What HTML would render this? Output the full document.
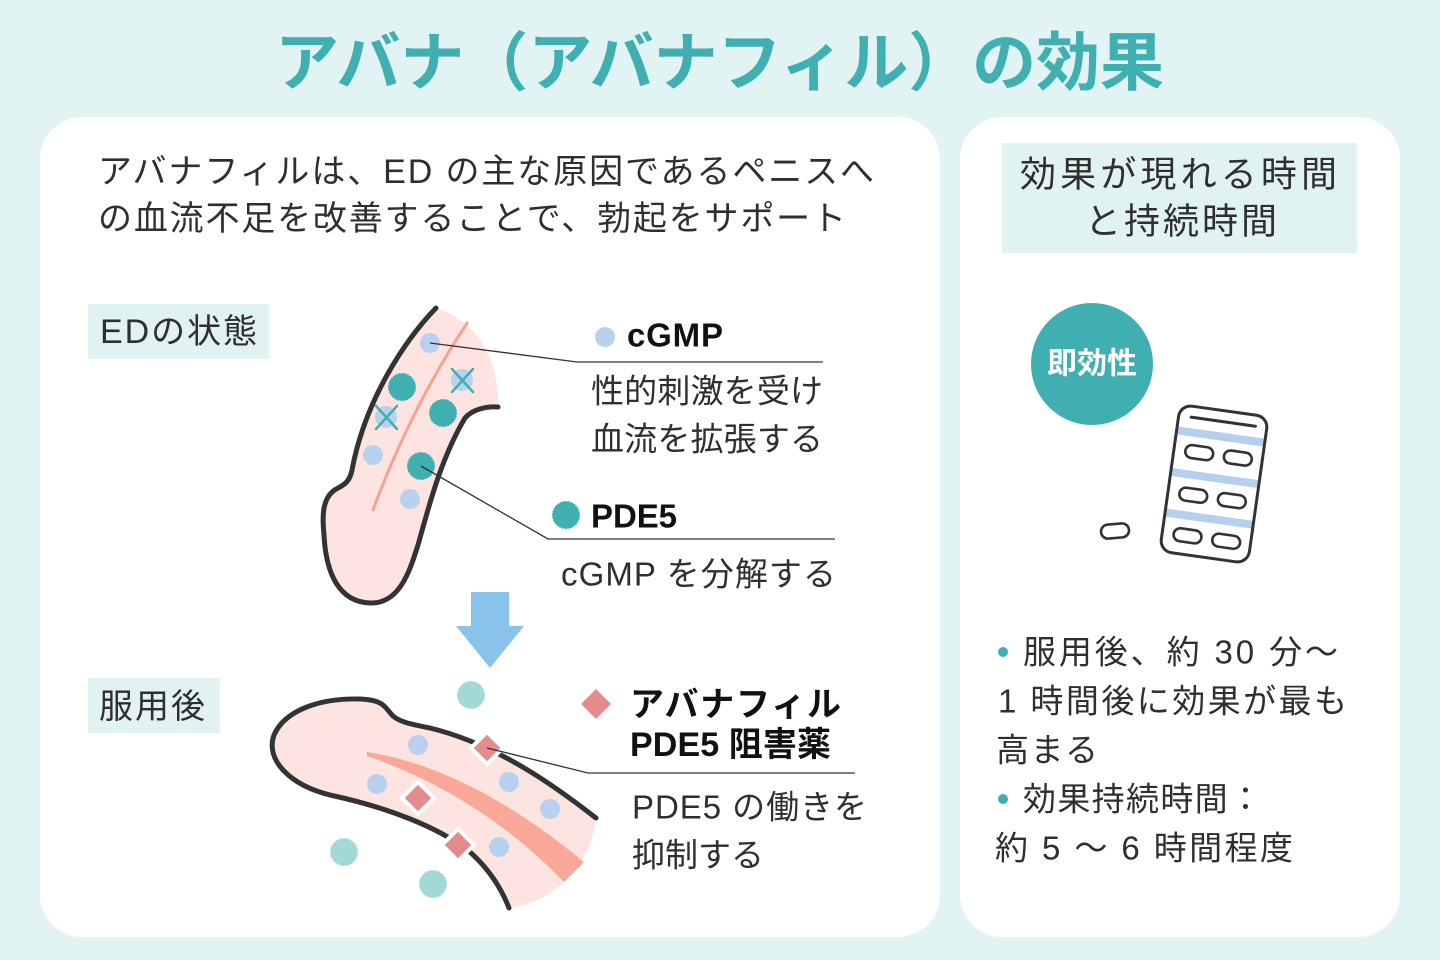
<!DOCTYPE html>
<html lang="ja">
<head>
<meta charset="utf-8">
<style>
html,body{margin:0;padding:0;background:#e1f3f3;}
svg{display:block;}
text{font-family:"Liberation Sans","Noto Sans CJK JP",sans-serif;}
</style>
</head>
<body>
<svg width="1440" height="960" viewBox="0 0 1440 960" xmlns="http://www.w3.org/2000/svg">
  <rect x="0" y="0" width="1440" height="960" fill="#e1f3f3"/>

  <!-- Title -->
  <text x="275" y="63" font-size="64" font-weight="700" fill="#40afb1" dominant-baseline="central" textLength="889" lengthAdjust="spacing">アバナ（アバナフィル）の効果</text>

  <!-- Cards -->
  <rect x="40" y="117" width="900" height="820" rx="42" fill="#ffffff"/>
  <rect x="960" y="117" width="440" height="820" rx="42" fill="#ffffff"/>

  <!-- Left intro text -->
  <text x="98" y="172" font-size="34" fill="#2f2f2f" dominant-baseline="central" textLength="776" lengthAdjust="spacing">アバナフィルは、ED の主な原因であるペニスへ</text>
  <text x="98" y="219" font-size="34" fill="#2f2f2f" dominant-baseline="central" textLength="748" lengthAdjust="spacing">の血流不足を改善することで、勃起をサポート</text>

  <!-- Labels -->
  <rect x="88" y="304" width="181" height="55" fill="#e0f3f2"/>
  <text x="100" y="332" font-size="34" fill="#2f2f2f" dominant-baseline="central" textLength="157" lengthAdjust="spacing">EDの状態</text>
  <rect x="88" y="678" width="132" height="55" fill="#e0f3f2"/>
  <text x="99" y="707" font-size="34" fill="#2f2f2f" dominant-baseline="central" textLength="106" lengthAdjust="spacing">服用後</text>

  <!-- Top illustration (ED state) -->
  <path d="M436,308 C405,340 365,400 352,470 C350,480 346,484 338,488 C322,496 322,515 324,535 C326,575 340,602 370,603 C400,604 410,570 418,545 C428,510 440,460 465,418 C472,410 485,406 498,407 C499,370 486,325 436,308 Z" fill="#fde4e0"/>
  <path d="M467,323 Q410,410 373,510" fill="none" stroke="#f7a393" stroke-width="3" stroke-linecap="round"/>
  <path d="M436,308 C405,340 365,400 352,470 C350,480 346,484 338,488 C322,496 322,515 324,535 C326,575 340,602 370,603 C400,604 410,570 418,545 C428,510 440,460 465,418 C472,410 485,406 498,407" fill="none" stroke="#333" stroke-width="5" stroke-linecap="round" stroke-linejoin="round"/>

  <!-- dots top -->
  <circle cx="430" cy="343" r="10" fill="#b8d1ef"/>
  <circle cx="373" cy="455" r="10" fill="#b8d1ef"/>
  <circle cx="410" cy="499" r="10" fill="#b8d1ef"/>
  <circle cx="462" cy="380" r="11" fill="#b8d1ef"/>
  <circle cx="386" cy="417" r="11" fill="#b8d1ef"/>
  <g stroke="#40afb1" stroke-width="2.5" stroke-linecap="round">
    <line x1="452" y1="369" x2="473" y2="392"/><line x1="473" y1="369" x2="452" y2="392"/>
    <line x1="376" y1="406" x2="397" y2="429"/><line x1="397" y1="406" x2="376" y2="429"/>
  </g>
  <g fill="#40afb1" stroke="#40afb1" stroke-width="1.2" stroke-dasharray="1.6 1.4">
    <circle cx="402" cy="387" r="13.5"/>
    <circle cx="443" cy="413" r="13.5"/>
    <circle cx="421" cy="466" r="13.5"/>
  </g>

  <!-- leader lines top -->
  <polyline points="430,343 577,362 823,362" fill="none" stroke="#333" stroke-width="1.3"/>
  <polyline points="421,466 548,539 835,539" fill="none" stroke="#333" stroke-width="1.3"/>

  <!-- top labels -->
  <circle cx="605" cy="337" r="10" fill="#b8d1ef"/>
  <text x="627" y="335" font-size="33" font-weight="700" fill="#111" dominant-baseline="central" textLength="96" lengthAdjust="spacing">cGMP</text>
  <text x="591" y="391" font-size="33" fill="#2f2f2f" dominant-baseline="central" textLength="232" lengthAdjust="spacing">性的刺激を受け</text>
  <text x="591" y="439" font-size="33" fill="#2f2f2f" dominant-baseline="central" textLength="232" lengthAdjust="spacing">血流を拡張する</text>
  <circle cx="566" cy="515" r="13.5" fill="#40afb1" stroke="#40afb1" stroke-width="1.2" stroke-dasharray="1.6 1.4"/>
  <text x="591" y="516" font-size="33" font-weight="700" fill="#111" dominant-baseline="central" textLength="86" lengthAdjust="spacing">PDE5</text>
  <text x="561" y="574" font-size="33" fill="#2f2f2f" dominant-baseline="central" textLength="275" lengthAdjust="spacing">cGMP を分解する</text>

  <!-- arrow -->
  <polygon points="471,592 509,592 509,626 524,626 490,668 456,626 471,626" fill="#89c2ea"/>

  <!-- Bottom illustration -->
  <path d="M596,818 C560,790 500,745 430,728 C410,724 400,722 393,716 C385,708 385,700 360,699 C320,698 285,710 274,735 C265,760 290,785 330,795 C390,808 440,828 470,852 C490,870 502,890 509,908 C550,903 590,870 596,818 Z" fill="#fde4e0"/>
  <path d="M367,752 Q470,768 584,862 L564,882 Q480,795 367,756 Z" fill="#f9a898"/>
  <path d="M596,818 C560,790 500,745 430,728 C410,724 400,722 393,716 C385,708 385,700 360,699 C320,698 285,710 274,735 C265,760 290,785 330,795 C390,808 440,828 470,852 C490,870 502,890 509,908" fill="none" stroke="#333" stroke-width="5" stroke-linecap="round" stroke-linejoin="round"/>

  <g fill="#b8d1ef">
    <circle cx="418" cy="745" r="10"/>
    <circle cx="377" cy="784" r="10"/>
    <circle cx="509" cy="782" r="10"/>
    <circle cx="550" cy="809" r="10"/>
    <circle cx="499" cy="847" r="10"/>
  </g>
  <g fill="#a2d9d7" stroke="#a2d9d7" stroke-width="1.2" stroke-dasharray="1.6 1.4">
    <circle cx="471" cy="695" r="13.5"/>
    <circle cx="344" cy="852" r="13.5"/>
    <circle cx="433" cy="884" r="13.5"/>
  </g>
  <g fill="#e48c8c" stroke="#ffffff" stroke-width="4" stroke-linejoin="miter">
    <polygon points="487,732 503,748 487,764 471,748"/>
    <polygon points="418,782 434,798 418,814 402,798"/>
    <polygon points="458,829 474,845 458,861 442,845"/>
  </g>
  <polyline points="487,748 588,773 855,773" fill="none" stroke="#333" stroke-width="1.3"/>

  <!-- bottom labels -->
  <polygon points="596,689 611,704 596,719 581,704" fill="#e48c8c"/>
  <text x="630" y="705" font-size="34" font-weight="700" fill="#111" dominant-baseline="central" textLength="211" lengthAdjust="spacing">アバナフィル</text>
  <text x="630" y="745" font-size="34" font-weight="700" fill="#111" dominant-baseline="central" textLength="201" lengthAdjust="spacing">PDE5 阻害薬</text>
  <text x="632" y="807" font-size="33" fill="#2f2f2f" dominant-baseline="central" textLength="235" lengthAdjust="spacing">PDE5 の働きを</text>
  <text x="632" y="855" font-size="33" fill="#2f2f2f" dominant-baseline="central" textLength="132" lengthAdjust="spacing">抑制する</text>

  <!-- Right card -->
  <rect x="1002" y="143" width="355" height="110" fill="#e0f3f2"/>
  <text x="1020" y="174" font-size="36" fill="#2f2f2f" dominant-baseline="central" textLength="317" lengthAdjust="spacing">効果が現れる時間</text>
  <text x="1085" y="221" font-size="36" fill="#2f2f2f" dominant-baseline="central" textLength="192" lengthAdjust="spacing">と持続時間</text>

  <circle cx="1092" cy="364" r="61" fill="#40afb1"/>
  <text x="1047" y="364" font-size="30" font-weight="700" fill="#ffffff" dominant-baseline="central" textLength="90" lengthAdjust="spacing">即効性</text>

  <!-- blister pack -->
  <defs>
    <clipPath id="bp">
      <rect x="-44.5" y="-74" width="89" height="148" rx="12"/>
    </clipPath>
  </defs>
  <g transform="translate(1214,484) rotate(8)">
    <rect x="-44.5" y="-74" width="89" height="148" rx="12" fill="#ffffff"/>
    <g clip-path="url(#bp)" fill="#b5cfee">
      <rect x="-46" y="-52" width="92" height="8"/>
      <rect x="-46" y="-10" width="92" height="8"/>
      <rect x="-46" y="31" width="92" height="8"/>
    </g>
    <rect x="-44.5" y="-74" width="89" height="148" rx="12" fill="none" stroke="#333" stroke-width="3"/>
    <line x1="-32" y1="-63" x2="33" y2="-63" stroke="#333" stroke-width="3" stroke-linecap="round"/>
    <g fill="#ffffff" stroke="#333" stroke-width="2.6">
      <rect x="-33" y="-35.5" width="28" height="13" rx="6.5"/>
      <rect x="6" y="-35.5" width="28" height="13" rx="6.5"/>
      <rect x="-33" y="7.5" width="28" height="13" rx="6.5"/>
      <rect x="6" y="7.5" width="28" height="13" rx="6.5"/>
      <rect x="-33" y="48.5" width="28" height="13" rx="6.5"/>
      <rect x="6" y="48.5" width="28" height="13" rx="6.5"/>
    </g>
  </g>
  <g transform="translate(1115,531) rotate(-5)">
    <rect x="-14" y="-7" width="28" height="14" rx="7" fill="#ffffff" stroke="#333" stroke-width="2.6"/>
  </g>

  <!-- bullets -->
  <circle cx="1003" cy="652" r="5" fill="#40afb1"/>
  <text x="1023" y="652" font-size="33" fill="#2f2f2f" dominant-baseline="central" textLength="315" lengthAdjust="spacing">服用後、約 30 分〜</text>
  <text x="998" y="701" font-size="33" fill="#2f2f2f" dominant-baseline="central" textLength="349" lengthAdjust="spacing">1 時間後に効果が最も</text>
  <text x="996" y="750" font-size="33" fill="#2f2f2f" dominant-baseline="central" textLength="102" lengthAdjust="spacing">高まる</text>
  <circle cx="1003" cy="799" r="5" fill="#40afb1"/>
  <text x="1023" y="799" font-size="33" fill="#2f2f2f" dominant-baseline="central" textLength="239" lengthAdjust="spacing">効果持続時間：</text>
  <text x="995" y="848" font-size="33" fill="#2f2f2f" dominant-baseline="central" textLength="298" lengthAdjust="spacing">約 5 〜 6 時間程度</text>
</svg>
</body>
</html>
